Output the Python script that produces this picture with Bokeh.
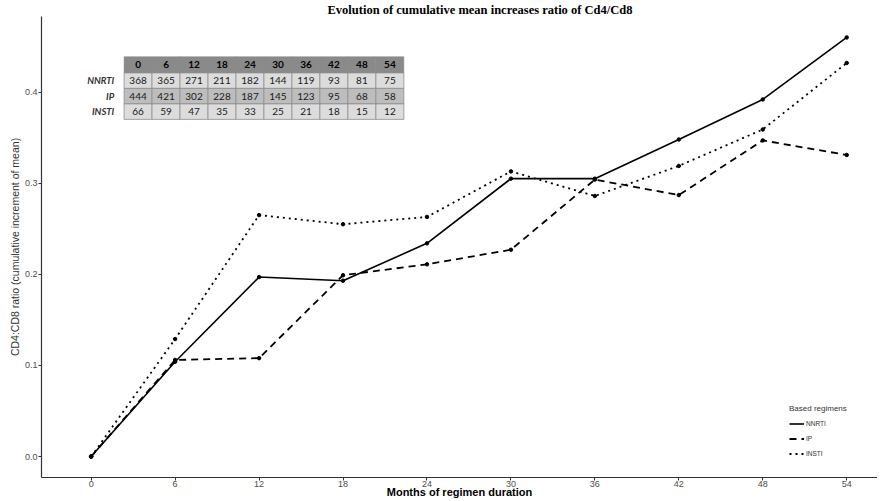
from bokeh.plotting import figure
from bokeh.models import Range1d, Legend, LegendItem, FixedTicker, CustomJSTickFormatter, Spacer
from bokeh.layouts import row
from bokeh.core.properties import value
from bokeh.embed import file_html
from bokeh.resources import INLINE

# ---- data ----
months = [0, 6, 12, 18, 24, 30, 36, 42, 48, 54]
nnrti = [0.0, 0.104, 0.197, 0.193, 0.234, 0.305, 0.305, 0.348, 0.392, 0.460]
ip = [0.0, 0.106, 0.108, 0.199, 0.211, 0.227, 0.304, 0.287, 0.347, 0.331]
insti = [0.0, 0.129, 0.265, 0.255, 0.263, 0.313, 0.286, 0.319, 0.359, 0.432]

table_header = ["0", "6", "12", "18", "24", "30", "36", "42", "48", "54"]
table_rows = ["NNRTI", "IP", "INSTI"]
n_nnrti = [368, 365, 271, 211, 182, 144, 119, 93, 81, 75]
n_ip = [444, 421, 302, 228, 187, 145, 123, 95, 68, 58]
n_insti = [66, 59, 47, 35, 33, 25, 21, 18, 15, 12]

title = "Evolution of cumulative mean increases ratio of Cd4/Cd8"
xlabel = "Months of regimen duration"
ylabel = "CD4:CD8 ratio (cumulative increment of mean)"

# ---- figure ----
XMIN, XMAX = -3.55, 56.2
YMIN, YMAX = -0.023, 0.483

p = figure(width=872, height=500, output_backend="svg", toolbar_location=None,
           x_range=Range1d(XMIN, XMAX), y_range=Range1d(YMIN, YMAX),
           min_border_left=30, min_border_right=0, min_border_top=0, min_border_bottom=0)
p.outline_line_color = None
p.xgrid.visible = False
p.ygrid.visible = False
p.background_fill_color = "white"

p.title.text = title
p.title.text_font = "Liberation Serif"
p.title.text_font_size = "12.5px"
p.title.text_font_style = "bold"
p.title.align = "left"
p.title.offset = 286
p.title.standoff = 0
p.title.text_color = "black"

for ax in (p.xaxis[0], p.yaxis[0]):
    ax.axis_line_color = "#333333"
    ax.axis_line_width = 1.2
    ax.major_tick_line_color = "#333333"
    ax.major_tick_out = 3
    ax.major_tick_in = 0
    ax.minor_tick_line_color = None
    ax.major_label_text_font = "Liberation Sans"
    ax.major_label_text_font_size = "9px"
    ax.major_label_text_color = "#4d4d4d"
    ax.major_label_standoff = 1

p.xaxis.major_label_standoff = 0
p.xaxis.ticker = FixedTicker(ticks=months)
p.yaxis.ticker = FixedTicker(ticks=[0.0, 0.1, 0.2, 0.3, 0.4])
p.yaxis.formatter = CustomJSTickFormatter(code="return tick.toFixed(1);")

p.xaxis.axis_label = xlabel
p.xaxis.axis_label_text_font = "Liberation Sans"
p.xaxis.axis_label_text_font_size = "11px"
p.xaxis.axis_label_text_font_style = "bold"
p.xaxis.axis_label_text_color = "black"
p.xaxis.axis_label_standoff = -4

p.yaxis.axis_label = ylabel
p.yaxis.axis_label_text_font = "Liberation Sans"
p.yaxis.axis_label_text_font_size = "10.5px"
p.yaxis.axis_label_text_font_style = "normal"
p.yaxis.axis_label_text_color = "#333333"
p.yaxis.axis_label_standoff = 1

# ---- series ----
r1 = p.line(months, nnrti, line_color="black", line_width=1.6)
r2 = p.line(months, ip, line_color="black", line_width=1.8, line_dash="7 5")
r3 = p.line(months, insti, line_color="black", line_width=1.8, line_dash="2 4")
for ys in (nnrti, ip, insti):
    p.scatter(months, ys, size=3.5, color="black")

legend = Legend(items=[LegendItem(label="NNRTI", renderers=[r1]),
                       LegendItem(label="IP", renderers=[r2]),
                       LegendItem(label="INSTI", renderers=[r3])],
                location=(748, 16), title="Based regimens",
                title_text_font="Liberation Sans", title_text_font_size="8px",
                title_text_font_style="normal", title_text_color="#333333",
                label_text_font="Liberation Sans", label_text_font_size="6.5px",
                label_text_color="#333333",
                glyph_width=15, glyph_height=15, spacing=0, padding=2,
                label_standoff=2, margin=0, border_line_color=None,
                background_fill_alpha=0, title_standoff=3)
p.add_layout(legend)

# ---- table (inset) ----
col_w = 2.0
x0 = 2.35
hdr_y = 0.430
row_h = 0.0170
cx = [x0 + col_w * (i + 0.5) for i in range(len(table_header))]

# header
p.rect(cx, [hdr_y] * len(cx), width=col_w, height=row_h * 1.05,
       fill_color="#8a8a8a", line_color="#8a8a8a", line_width=0.5)
p.text(cx, [hdr_y] * len(cx), text=table_header, text_align="center", text_baseline="middle",
       text_font=value("Lato"), text_font_size="10px", text_font_style="bold", text_color="black")

row_vals = [n_nnrti, n_ip, n_insti]
row_fill = ["#dcdcdc", "#bdbdbd", "#dcdcdc"]
for k, (lab, vals, fc) in enumerate(zip(table_rows, row_vals, row_fill)):
    yk = hdr_y - row_h * (k + 1) - row_h * 0.025
    p.rect(cx, [yk] * len(cx), width=col_w, height=row_h,
           fill_color=fc, line_color="#8f8f8f", line_width=0.8)
    p.text(cx, [yk] * len(cx), text=[str(v) for v in vals], text_align="center",
           text_baseline="middle", text_font=value("Lato"), text_font_size="10px",
           text_color="#1a1a1a")
    p.text([x0 - 0.7], [yk], text=[lab], text_align="right", text_baseline="middle",
           text_font=value("Lato"), text_font_size="9.5px", text_font_style="bold italic",
           text_color="#333333")

layout = row(Spacer(width=5, height=500), p)
open("out.html", "w").write(file_html(layout, INLINE))
